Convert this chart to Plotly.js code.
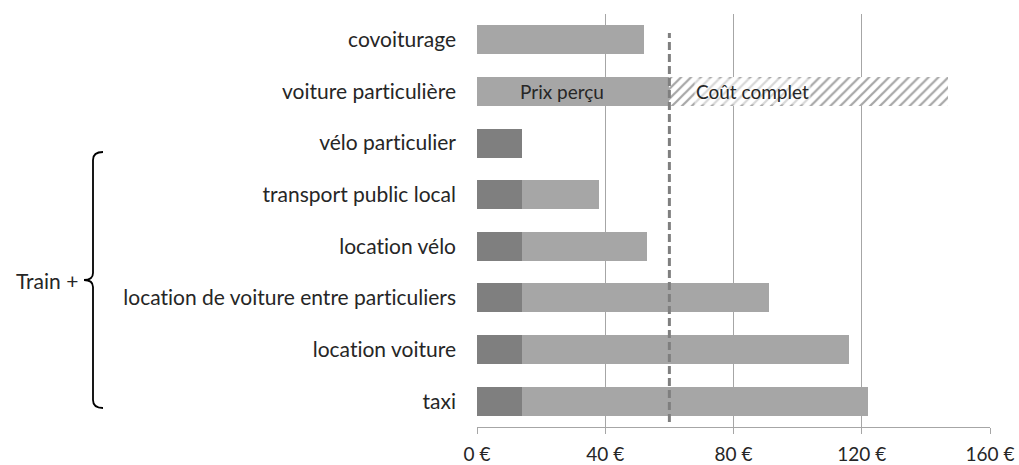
<!DOCTYPE html>
<html>
<head>
<meta charset="utf-8">
<script src="https://cdn.plot.ly/plotly-3.0.1.min.js"></script>
<style>html,body{margin:0;padding:0;background:#fff}#chart{width:1019px;height:465px}
svg text{font-variant-ligatures:none;font-feature-settings:"liga" 0,"clig" 0}</style>
</head>
<body>
<div id="chart"></div>
<script>
// Data
const categories = ["covoiturage", "voiture particulière", "vélo particulier", "transport public local", "location vélo", "location de voiture entre particuliers", "location voiture", "taxi"];
const trainPart = [0, 0, 14, 14, 14, 14, 14, 14];
const perceivedPart = [52, 60, 0, 24, 39, 77, 102, 108];
const fullCostExtra = [0, 87, 0, 0, 0, 0, 0, 0];
const xTickVals = [0, 40, 80, 120, 160];
const xTickText = ["0 €", "40 €", "80 €", "120 €", "160 €"];
const perceivedLine = 60;
const groupLabel = "Train +";
const labelPrix = "Prix perçu";
const labelCout = "Coût complet";

// Layout helpers (pixel -> paper)
const W = 1019, H = 465, ML = 477, MR = 29, MT = 14, MB = 38;
const PW = W - ML - MR, PH = H - MT - MB;
const px = v => (v - ML) / PW;
const py = v => (H - MB - v) / PH;

const FONT = "Lato, Noto Sans, sans-serif";
const FS = 21;

const traces = [
  {type: "bar", orientation: "h", y: categories, x: trainPart, marker: {color: "#7f7f7f"}, hoverinfo: "x+y"},
  {type: "bar", orientation: "h", y: categories, x: perceivedPart, marker: {color: "#a6a6a6"}, hoverinfo: "x+y"},
  {type: "bar", orientation: "h", y: categories, x: fullCostExtra,
   marker: {color: "#ffffff", pattern: {shape: "/", fgcolor: "#a6a6a6", bgcolor: "#ffffff", size: 7, solidity: 0.32}}, hoverinfo: "x+y"}
];

const bracePath = [
  "M", px(103), py(152),
  "Q", px(93), py(152), px(93), py(160),
  "L", px(93), py(273),
  "Q", px(93), py(280), px(84), py(280),
  "Q", px(93), py(280), px(93), py(287),
  "L", px(93), py(400),
  "Q", px(93), py(408), px(103), py(408)
].join(" ");

const layout = {
  width: W, height: H,
  margin: {l: ML, r: MR, t: MT, b: MB, pad: 0},
  paper_bgcolor: "#ffffff", plot_bgcolor: "#ffffff",
  barmode: "stack", bargap: 0.44,
  showlegend: false,
  font: {family: FONT, size: FS, color: "#262626"},
  xaxis: {
    range: [0, 160], tickvals: xTickVals, ticktext: xTickText,
    showgrid: true, gridcolor: "#a6a6a6", gridwidth: 1,
    zeroline: false, showline: true, linecolor: "#a6a6a6", linewidth: 1,
    ticks: "outside", ticklen: 6, tickcolor: "#a6a6a6",
    ticklabelstandoff: 4,
    tickfont: {family: FONT, size: 19, color: "#262626"},
    fixedrange: true
  },
  yaxis: {
    type: "category", autorange: "reversed",
    showgrid: false, zeroline: false, showline: false, ticks: "",
    ticklabelstandoff: 20,
    tickfont: {family: FONT, size: FS, color: "#262626"},
    fixedrange: true
  },
  shapes: [
    {type: "line", xref: "x", yref: "paper", x0: perceivedLine, x1: perceivedLine, y0: py(422), y1: py(33),
     line: {color: "#7f7f7f", width: 3, dash: "8px,4px"}},
    {type: "path", xref: "paper", yref: "paper", path: bracePath, line: {color: "#000000", width: 1.8}}
  ],
  annotations: [
    {xref: "x", yref: "y", x: 26.5, y: categories[1], text: labelPrix, showarrow: false,
     font: {family: FONT, size: 19, color: "#262626"}},
    {xref: "x", yref: "y", x: 86, y: categories[1], text: labelCout, showarrow: false,
     bgcolor: "rgba(255,255,255,0.55)",
     font: {family: FONT, size: 19, color: "#262626"}},
    {xref: "paper", yref: "paper", x: px(80), y: py(280), xanchor: "right", yanchor: "middle",
     text: groupLabel, showarrow: false, font: {family: FONT, size: FS, color: "#262626"}}
  ]
};

Plotly.newPlot("chart", traces, layout, {displayModeBar: false, staticPlot: true});
</script>
</body>
</html>
